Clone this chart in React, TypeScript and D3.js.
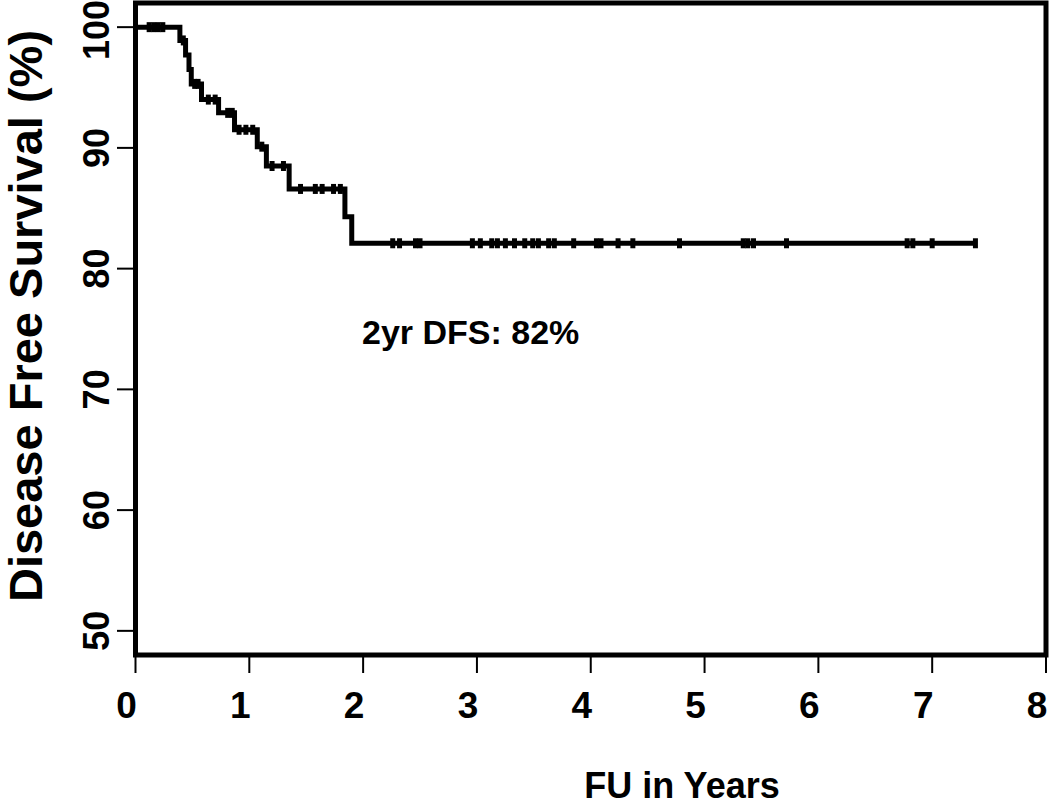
import React, { useEffect, useRef } from 'react';
import * as d3 from 'd3';

// Kaplan-Meier step curve (years, % disease free)
const stepTimes = [0, 0.39, 0.44, 0.47, 0.49, 0.58, 0.73, 0.87, 1.07, 1.15, 1.35, 1.84, 1.9];
const stepValues = [100, 98.9, 97.7, 96.5, 95.3, 94.0, 92.9, 91.5, 90.1, 88.5, 86.6, 84.3, 82.1];
const lastTime = 7.38;

// censored patients (tick marks on the curve)
const censorTimes = [
  0.12, 0.16, 0.2, 0.24, 0.42, 0.52, 0.55, 0.64, 0.7, 0.81, 0.85, 0.91, 0.97, 1.03,
  1.11, 1.2, 1.3, 1.45, 1.58, 1.64, 1.74, 1.8,
  2.26, 2.32, 2.46, 2.5, 2.96, 3.03, 3.13, 3.18, 3.25, 3.33, 3.42, 3.49, 3.54, 3.63,
  3.68, 3.85, 4.05, 4.09, 4.24, 4.37, 4.78, 5.34, 5.38, 5.43, 5.72, 6.78, 6.83, 7.0, 7.38,
];

const xTicks = [0, 1, 2, 3, 4, 5, 6, 7, 8];
const yTicks = [50, 60, 70, 80, 90, 100];

const W = 1050;
const H = 805;
const FONT = 'Liberation Sans, Arial, Helvetica, sans-serif';

function survivalAt(t: number) {
  let v = stepValues[0];
  for (let i = 0; i < stepTimes.length; i++) {
    if (stepTimes[i] <= t) v = stepValues[i];
  }
  return v;
}

export default function App() {
  const ref = useRef<SVGSVGElement>(null);

  useEffect(() => {
    const svg = d3.select(ref.current);
    svg.selectAll('*').remove();

    const x = d3.scaleLinear().domain([0, 8]).range([135.5, 1046]);
    const y = d3.scaleLinear().domain([48, 102]).range([655, 3]);

    // curve
    const pts: [number, number][] = stepTimes.map((t, i) => [t, stepValues[i]]);
    pts.push([lastTime, stepValues[stepValues.length - 1]]);
    const line = d3
      .line<[number, number]>()
      .x((d) => x(d[0]))
      .y((d) => y(d[1]))
      .curve(d3.curveStepAfter);

    svg.append('path')
      .datum(pts)
      .attr('d', line)
      .attr('fill', 'none')
      .attr('stroke', '#000')
      .attr('stroke-width', 5);

    // censor marks
    svg.append('g')
      .selectAll('line')
      .data(censorTimes)
      .enter()
      .append('line')
      .attr('x1', (d) => x(d))
      .attr('x2', (d) => x(d))
      .attr('y1', (d) => y(survivalAt(d)) - 5)
      .attr('y2', (d) => y(survivalAt(d)) + 5)
      .attr('stroke', '#000')
      .attr('stroke-width', 5);

    // box
    svg.append('rect')
      .attr('x', x(0))
      .attr('y', y(102))
      .attr('width', x(8) - x(0))
      .attr('height', y(48) - y(102))
      .attr('fill', 'none')
      .attr('stroke', '#000')
      .attr('stroke-width', 5);

    // x axis
    const gx = svg.append('g');
    gx.selectAll('line')
      .data(xTicks)
      .enter()
      .append('line')
      .attr('x1', (d) => x(d))
      .attr('x2', (d) => x(d))
      .attr('y1', 657)
      .attr('y2', 673)
      .attr('stroke', '#000')
      .attr('stroke-width', 2);
    gx.selectAll('text')
      .data(xTicks)
      .enter()
      .append('text')
      .attr('x', (d) => x(d) - 9)
      .attr('y', 718)
      .attr('text-anchor', 'middle')
      .style('font-family', FONT)
      .style('font-weight', 'bold')
      .style('font-size', '37px')
      .text((d) => d);

    // y axis
    const gy = svg.append('g');
    gy.selectAll('line')
      .data(yTicks)
      .enter()
      .append('line')
      .attr('x1', 117)
      .attr('x2', 133)
      .attr('y1', (d) => y(d))
      .attr('y2', (d) => y(d))
      .attr('stroke', '#000')
      .attr('stroke-width', 2);
    gy.selectAll('text')
      .data(yTicks)
      .enter()
      .append('text')
      .attr('transform', (d) => `translate(109, ${Math.max(y(d), 30)}) rotate(-90)`)
      .attr('text-anchor', 'middle')
      .style('font-family', FONT)
      .style('font-weight', 'bold')
      .style('font-size', '36px')
      .text((d) => d);

    // axis titles
    svg.append('text')
      .attr('x', 682)
      .attr('y', 798)
      .attr('text-anchor', 'middle')
      .style('font-family', FONT)
      .style('font-weight', 'bold')
      .style('font-size', '36px')
      .text('FU in Years');

    svg.append('text')
      .attr('transform', 'translate(42, 316) rotate(-90)')
      .attr('text-anchor', 'middle')
      .style('font-family', FONT)
      .style('font-weight', 'bold')
      .style('font-size', '47px')
      .text('Disease Free Survival (%)');

    // annotation
    svg.append('text')
      .attr('x', 362)
      .attr('y', 344)
      .style('font-family', FONT)
      .style('font-weight', 'bold')
      .style('font-size', '34px')
      .text('2yr DFS: 82%');
  }, []);

  return (
    <svg
      ref={ref}
      width={W}
      height={H}
      style={{ position: 'absolute', left: 0, top: 0, background: '#fff' }}
    />
  );
}
